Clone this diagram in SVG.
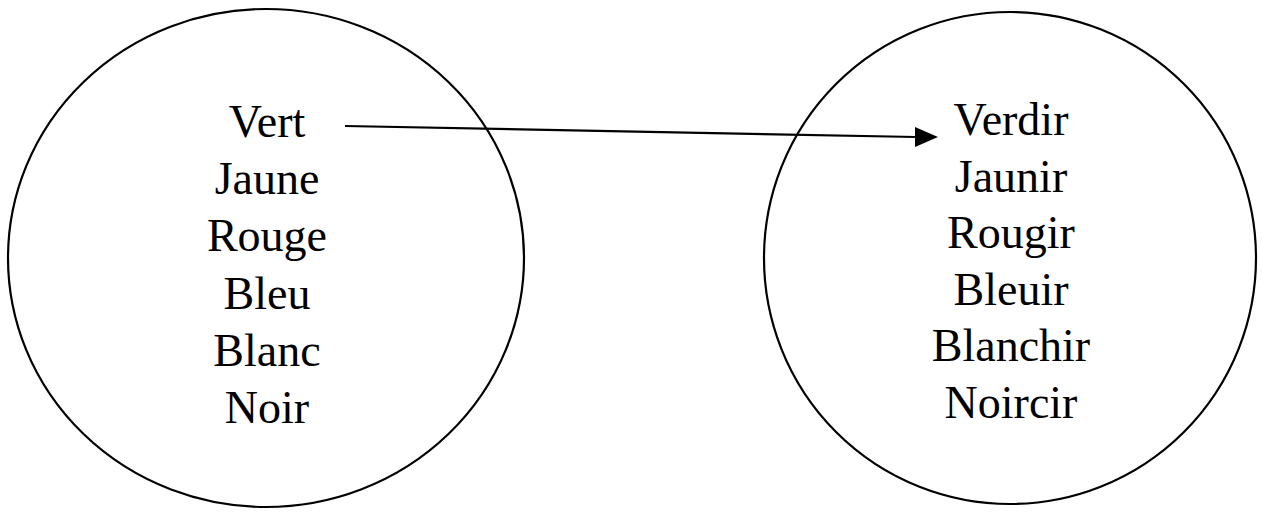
<svg xmlns="http://www.w3.org/2000/svg" width="1262" height="512" viewBox="0 0 1262 512">
<defs>
<style>
.c{fill:none;stroke:#000;stroke-width:2.2}
.t{font-family:"Liberation Serif","Times New Roman",serif;font-size:46px;fill:#000;text-anchor:middle}
.l{stroke:#000;stroke-width:2.2;fill:none}
</style>
<marker id="ah" markerWidth="12" markerHeight="10" refX="11" refY="5" orient="auto" markerUnits="userSpaceOnUse" viewBox="0 0 12 10">
<path d="M0,0 L12,5 L0,10 z" fill="#000"/>
</marker>
</defs>
<rect width="1262" height="512" fill="#fff"/>
<g id="left">
<ellipse class="c" cx="266" cy="258" rx="258" ry="249"/>
<text class="t" x="267" y="137">Vert</text>
<text class="t" x="267" y="194">Jaune</text>
<text class="t" x="267" y="251">Rouge</text>
<text class="t" x="267" y="309">Bleu</text>
<text class="t" x="267" y="366">Blanc</text>
<text class="t" x="267" y="423">Noir</text>
</g>
<g id="right">
<ellipse class="c" cx="1010" cy="258" rx="246" ry="246"/>
<text class="t" x="1011" y="135">Verdir</text>
<text class="t" x="1011" y="192">Jaunir</text>
<text class="t" x="1011" y="248">Rougir</text>
<text class="t" x="1011" y="305">Bleuir</text>
<text class="t" x="1011" y="361">Blanchir</text>
<text class="t" x="1011" y="418">Noircir</text>
</g>
<g id="connectors">
<line class="l" x1="345" y1="126" x2="916" y2="137"/>
<path d="M915,127 L938,137 L915,147 z" fill="#000"/>
</g>
</svg>
